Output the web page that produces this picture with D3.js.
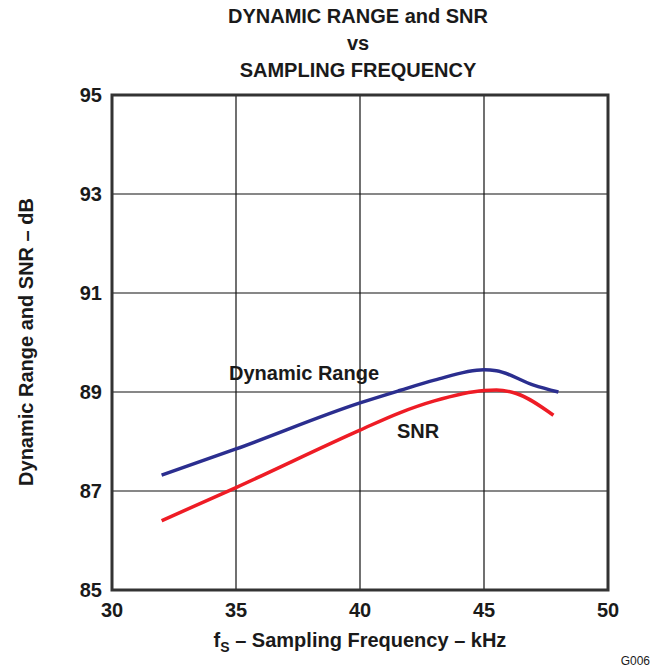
<!DOCTYPE html>
<html>
<head>
<meta charset="utf-8">
<script src="https://cdn.jsdelivr.net/npm/d3@7"></script>
<style>
  body { margin: 0; background: #fff; }
  text { font-family: "Liberation Sans", Arial, sans-serif; fill: #1a1a1a; }
</style>
</head>
<body>
<script>
// data
const drFreq = [32, 35, 40, 41.6, 43, 45, 45.5, 47, 48];
const drVals = [87.32, 87.85, 88.78, 89.03, 89.24, 89.45, 89.43, 89.14, 89.0];
const snrFreq = [32, 35, 40, 41.6, 43, 45, 45.5, 46.3, 47.8];
const snrVals = [86.40, 87.07, 88.23, 88.58, 88.82, 89.03, 89.04, 88.97, 88.53];
const xTicks = [30, 35, 40, 45, 50];
const yTicks = [85, 87, 89, 91, 93, 95];

const W = 660, H = 668;
const m = {left: 112, right: 52, top: 95, bottom: 78};
const fs = "20px";

const svg = d3.select("body").append("svg").attr("width", W).attr("height", H);

const x = d3.scaleLinear().domain([30, 50]).range([m.left, W - m.right]);
const y = d3.scaleLinear().domain([85, 95]).range([H - m.bottom, m.top]);

// grid
svg.append("g").selectAll("line").data(xTicks.slice(1, -1)).join("line")
  .attr("x1", d => x(d)).attr("x2", d => x(d))
  .attr("y1", m.top).attr("y2", H - m.bottom)
  .attr("stroke", "#111").attr("stroke-width", 1.2);
svg.append("g").selectAll("line").data(yTicks.slice(1, -1)).join("line")
  .attr("y1", d => y(d)).attr("y2", d => y(d))
  .attr("x1", m.left).attr("x2", W - m.right)
  .attr("stroke", "#111").attr("stroke-width", 1.2);

// frame
svg.append("rect")
  .attr("x", m.left).attr("y", m.top)
  .attr("width", W - m.left - m.right).attr("height", H - m.top - m.bottom)
  .attr("fill", "none").attr("stroke", "#333").attr("stroke-width", 3);

// tick labels
svg.append("g").selectAll("text").data(xTicks).join("text")
  .attr("x", d => x(d)).attr("y", 617)
  .attr("text-anchor", "middle")
  .style("font-size", fs).style("font-weight", "bold")
  .text(d => d);
svg.append("g").selectAll("text").data(yTicks).join("text")
  .attr("x", 102).attr("y", d => y(d) + 7)
  .attr("text-anchor", "end")
  .style("font-size", fs).style("font-weight", "bold")
  .text(d => d);

// curves
const line = d3.line().curve(d3.curveMonotoneX);
svg.append("path")
  .attr("d", line(drFreq.map((f, i) => [x(f), y(drVals[i])])))
  .attr("fill", "none").attr("stroke", "#2b2e8f").attr("stroke-width", 3.5);
svg.append("path")
  .attr("d", line(snrFreq.map((f, i) => [x(f), y(snrVals[i])])))
  .attr("fill", "none").attr("stroke", "#ee1c25").attr("stroke-width", 3.5);

// curve labels
svg.append("text").attr("x", 229).attr("y", 380)
  .style("font-size", fs).style("font-weight", "bold").text("Dynamic Range");
svg.append("text").attr("x", 397).attr("y", 438)
  .style("font-size", fs).style("font-weight", "bold").text("SNR");

// title
const title = ["DYNAMIC RANGE and SNR", "vs", "SAMPLING FREQUENCY"];
svg.append("g").selectAll("text").data(title).join("text")
  .attr("x", 358).attr("y", (d, i) => 23 + i * 27)
  .attr("text-anchor", "middle")
  .style("font-size", fs).style("font-weight", "bold")
  .text(d => d);

// axis titles
const xt = svg.append("text").attr("x", 360).attr("y", 647)
  .attr("text-anchor", "middle")
  .style("font-size", fs).style("font-weight", "bold");
xt.append("tspan").text("f");
xt.append("tspan").attr("dy", 5).style("font-size", "14px").text("S");
xt.append("tspan").attr("dy", -5).text(" – Sampling Frequency – kHz");

svg.append("text")
  .attr("transform", "translate(33,342) rotate(-90)")
  .attr("text-anchor", "middle")
  .style("font-size", fs).style("font-weight", "bold")
  .text("Dynamic Range and SNR – dB");

svg.append("text").attr("x", 650).attr("y", 665)
  .attr("text-anchor", "end")
  .style("font-size", "12px").text("G006");
</script>
</body>
</html>
